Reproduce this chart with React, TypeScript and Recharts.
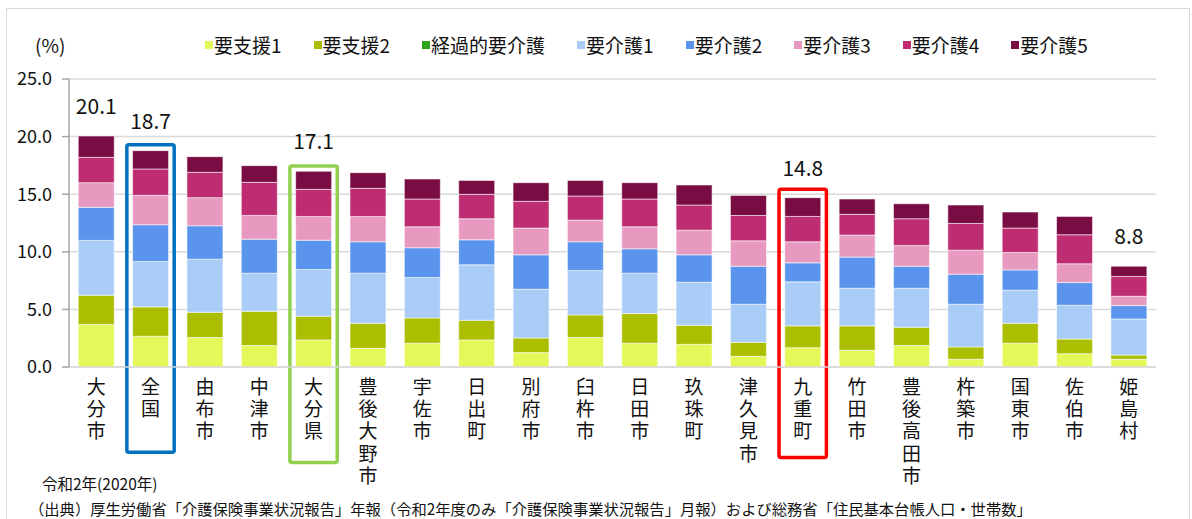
import React from "react";
import {
  BarChart,
  Bar,
  XAxis,
  YAxis,
  CartesianGrid,
  LabelList,
  ReferenceArea,
} from "recharts";

const FONT = "'Noto Sans CJK JP', 'Noto Sans', sans-serif";

const categories = [
  "大分市", "全国", "由布市", "中津市", "大分県", "豊後大野市", "宇佐市",
  "日出町", "別府市", "臼杵市", "日田市", "玖珠町", "津久見市", "九重町",
  "竹田市", "豊後高田市", "杵築市", "国東市", "佐伯市", "姫島村",
];

const shien1 = [3.68, 2.67, 2.55, 1.86, 2.35, 1.62, 2.06, 2.35, 1.25, 2.55, 2.06, 1.97, 0.93, 1.68, 1.45, 1.86, 0.67, 2.06, 1.16, 0.67];
const shien2 = [2.55, 2.55, 2.2, 2.98, 2.06, 2.18, 2.2, 1.71, 1.27, 1.97, 2.58, 1.65, 1.21, 1.89, 2.12, 1.59, 1.07, 1.74, 1.27, 0.37];
const keika = [0, 0, 0, 0, 0, 0, 0, 0, 0, 0, 0, 0, 0, 0, 0, 0, 0, 0, 0, 0];
const kaigo1 = [4.76, 3.94, 4.61, 3.3, 4.05, 4.34, 3.51, 4.81, 4.23, 3.86, 3.5, 3.74, 3.31, 3.82, 3.27, 3.39, 3.71, 2.87, 2.93, 3.13];
const kaigo2 = [2.87, 3.19, 2.9, 2.96, 2.55, 2.73, 2.58, 2.17, 2.99, 2.49, 2.12, 2.38, 3.3, 1.65, 2.7, 1.91, 2.61, 1.76, 1.97, 1.16];
const kaigo3 = [2.14, 2.55, 2.44, 2.06, 2.06, 2.2, 1.82, 1.83, 2.32, 1.88, 1.91, 2.14, 2.2, 1.83, 1.91, 1.8, 2.08, 1.51, 1.63, 0.81];
const kaigo4 = [2.2, 2.29, 2.2, 2.87, 2.35, 2.44, 2.41, 2.12, 2.32, 2.09, 2.41, 2.18, 2.2, 2.2, 1.8, 2.32, 2.32, 2.12, 2.52, 1.72];
const kaigo5 = [1.85, 1.59, 1.36, 1.45, 1.57, 1.36, 1.74, 1.21, 1.62, 1.36, 1.42, 1.74, 1.74, 1.63, 1.33, 1.3, 1.6, 1.39, 1.59, 0.89];

const totalLabels = ["20.1", "18.7", "", "", "17.1", "", "", "", "", "", "", "", "", "14.8", "", "", "", "", "", "8.8"];

const yTicks = [0, 5, 10, 15, 20, 25];

const series = [
  { key: "s1", name: "要支援1", color: "#E5F85A", values: shien1 },
  { key: "s2", name: "要支援2", color: "#ABBF00", values: shien2 },
  { key: "k0", name: "経過的要介護", color: "#2CA51A", values: keika },
  { key: "k1", name: "要介護1", color: "#A9CDF7", values: kaigo1 },
  { key: "k2", name: "要介護2", color: "#5B94EC", values: kaigo2 },
  { key: "k3", name: "要介護3", color: "#E899BF", values: kaigo3 },
  { key: "k4", name: "要介護4", color: "#BE2C72", values: kaigo4 },
  { key: "k5", name: "要介護5", color: "#7A0C44", values: kaigo5 },
];

// highlighted boxes: category, colour, top of box (value), bottom (value below axis)
const highlights = [
  { name: "全国", color: "#0070C0", top: 19.3, bottom: -7.4 },
  { name: "大分県", color: "#92D050", top: 17.45, bottom: -8.3 },
  { name: "九重町", color: "#FF0000", top: 15.43, bottom: -7.85 },
];

const data = categories.map((name, i) => {
  const row: Record<string, any> = { name, label: totalLabels[i] };
  series.forEach((s) => (row[s.key] = s.values[i]));
  return row;
});

// vertical (top-to-bottom) category names
const VerticalTick = (props: any) => {
  const { x, y, payload } = props;
  return (
    <text
      x={x}
      y={y + 2}
      fontSize={19}
      fill="#111"
      fontFamily={FONT}
      style={{ writingMode: "vertical-rl", letterSpacing: "3.3px" }}
    >
      {payload.value}
    </text>
  );
};

const TotalLabel = (props: any) => {
  const { x, y, width, value } = props;
  if (!value) return null;
  return (
    <text
      x={x + width / 2}
      y={y - 22}
      textAnchor="middle"
      fontSize={21}
      fill="#111"
      fontFamily={FONT}
    >
      {value}
    </text>
  );
};

const boxShape = (color: string) => (props: any) => {
  const { x, y, width, height } = props;
  return (
    <rect
      x={x + 3.5}
      y={y}
      width={width - 7}
      height={height}
      fill="none"
      stroke={color}
      strokeWidth={3.5}
      rx={2}
    />
  );
};

export default function App() {
  return (
    <div
      style={{
        position: "relative",
        width: 1192,
        height: 519,
        background: "#fff",
        fontFamily: FONT,
        overflow: "hidden",
      }}
    >
      <style>{`body{margin:0}`}</style>
      <div
        style={{
          position: "absolute",
          left: 6,
          top: 8,
          width: 1184,
          height: 530,
          border: "1.5px solid #d9d9d9",
          boxSizing: "border-box",
        }}
      />
      <div
        style={{
          position: "absolute",
          left: 35,
          top: 32,
          fontSize: 19,
          color: "#111",
          lineHeight: "26px",
        }}
      >
        (%)
      </div>
      <div
        style={{
          position: "absolute",
          left: 205,
          top: 32,
          display: "flex",
          gap: 32,
          fontSize: 19,
          color: "#111",
          lineHeight: "26px",
        }}
      >
        {series.map((s) => (
          <div key={s.key} style={{ display: "flex", alignItems: "center" }}>
            <span
              style={{
                display: "inline-block",
                width: 8,
                height: 8,
                background: s.color,
                marginRight: 1,
              }}
            />
            <span>{s.name}</span>
          </div>
        ))}
      </div>
      <div style={{ position: "absolute", left: 0, top: 0 }}>
        <BarChart
          width={1192}
          height={519}
          data={data}
          margin={{ top: 79, right: 36, bottom: 52, left: 0 }}
          barCategoryGap="17%"
        >
          <CartesianGrid vertical={false} stroke="#d9d9d9" strokeWidth={1.5} />
          <XAxis
            dataKey="name"
            height={100}
            tickLine={false}
            axisLine={{ stroke: "#d9d9d9", strokeWidth: 1.5 }}
            tick={<VerticalTick />}
            interval={0}
          />
          <YAxis
            width={69}
            domain={[0, 25]}
            ticks={yTicks}
            tickFormatter={(v: number) => v.toFixed(1)}
            tickSize={7}
            tickMargin={10}
            axisLine={{ stroke: "#a6a6a6", strokeWidth: 1.5 }}
            tickLine={{ stroke: "#a6a6a6", strokeWidth: 1.5 }}
            tick={{ fontSize: 18, fill: "#111", fontFamily: FONT }}
          />
          {series.map((s, idx) => (
            <Bar
              key={s.key}
              dataKey={s.key}
              name={s.name}
              stackId="a"
              fill={s.color}
              stroke="rgba(255,255,255,0.55)"
              strokeWidth={1}
              isAnimationActive={false}
            >
              {idx === series.length - 1 && (
                <LabelList dataKey="label" content={<TotalLabel />} />
              )}
            </Bar>
          ))}
          {highlights.map((h) => (
            <ReferenceArea
              key={h.name}
              x1={h.name}
              x2={h.name}
              y1={h.bottom}
              y2={h.top}
              ifOverflow="visible"
              shape={boxShape(h.color)}
            />
          ))}
        </BarChart>
      </div>
      <div
        style={{
          position: "absolute",
          left: 42,
          top: 471,
          fontSize: 15.5,
          color: "#111",
          lineHeight: "24px",
          whiteSpace: "nowrap",
        }}
      >
        令和2年(2020年)
      </div>
      <div
        style={{
          position: "absolute",
          left: 29,
          top: 496,
          fontSize: 15.3,
          color: "#111",
          lineHeight: "24px",
          whiteSpace: "nowrap",
        }}
      >
        （出典）厚生労働省「介護保険事業状況報告」年報（令和2年度のみ「介護保険事業状況報告」月報）および総務省「住民基本台帳人口・世帯数」
      </div>
    </div>
  );
}
